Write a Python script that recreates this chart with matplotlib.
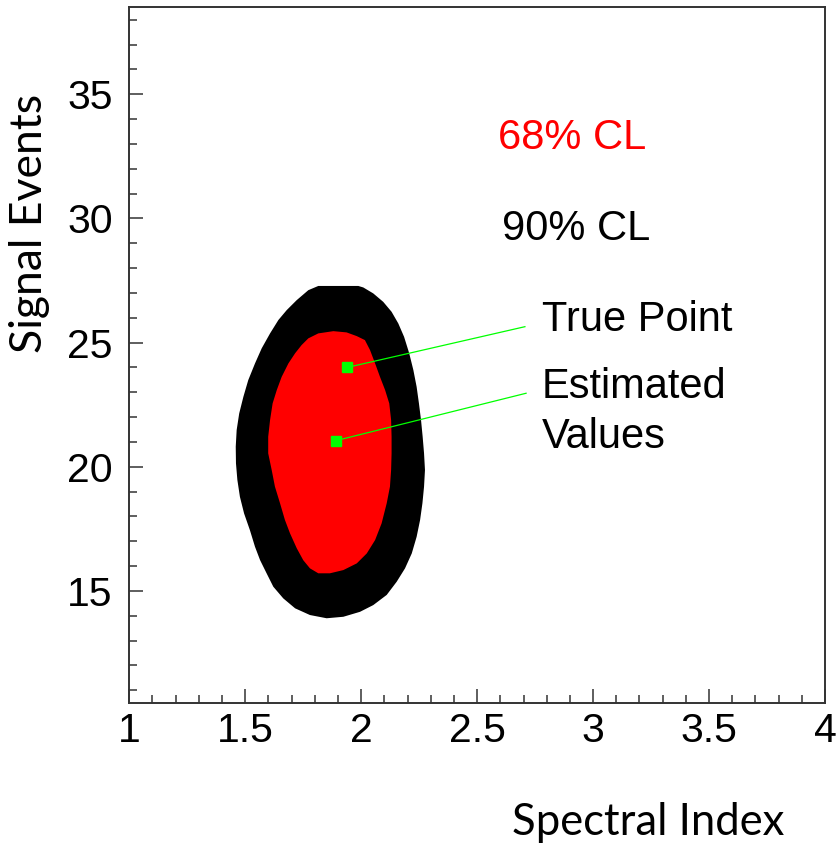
import matplotlib
matplotlib.use("Agg")
import matplotlib.pyplot as plt
from matplotlib.ticker import MultipleLocator, FixedLocator

# ---- data ----
cl90_x = [1.815, 1.9875, 2.009, 2.052, 2.095, 2.131, 2.160, 2.185, 2.207, 2.225, 2.239, 2.249,
          2.258, 2.265, 2.271, 2.275, 2.271, 2.264, 2.254, 2.239, 2.218, 2.189, 2.153, 2.110,
          2.052, 1.995, 1.923, 1.851, 1.779, 1.715, 1.664, 1.621, 1.592, 1.564, 1.542, 1.520,
          1.495, 1.477, 1.466, 1.460, 1.459, 1.463, 1.474, 1.492, 1.513, 1.542, 1.571, 1.607,
          1.643, 1.679, 1.722, 1.772]
cl90_y = [27.28, 27.28, 27.22, 26.98, 26.64, 26.24, 25.77, 25.23, 24.57, 23.89, 23.22, 22.55,
          21.88, 21.21, 20.54, 19.87, 19.20, 18.53, 17.86, 17.18, 16.51, 15.91, 15.37, 14.84,
          14.43, 14.16, 13.96, 13.90, 14.03, 14.30, 14.70, 15.17, 15.71, 16.24, 16.78, 17.45,
          18.12, 18.79, 19.47, 20.14, 20.81, 21.48, 22.15, 22.82, 23.49, 24.16, 24.77, 25.37,
          25.91, 26.31, 26.71, 27.11]

cl68_x = [1.880, 1.937, 1.981, 2.016, 2.038, 2.060, 2.081, 2.103, 2.121, 2.129, 2.131, 2.131,
          2.129, 2.124, 2.110, 2.088, 2.060, 2.024, 1.981, 1.923, 1.865, 1.815, 1.779, 1.750,
          1.722, 1.693, 1.671, 1.650, 1.628, 1.614, 1.599, 1.599, 1.607, 1.618, 1.636, 1.657,
          1.686, 1.715, 1.743, 1.772, 1.815]
cl68_y = [25.46, 25.41, 25.26, 25.10, 24.70, 24.16, 23.62, 23.09, 22.55, 21.88, 21.21, 20.54,
          19.87, 19.20, 18.53, 17.72, 17.05, 16.51, 16.11, 15.84, 15.71, 15.71, 15.91, 16.24,
          16.72, 17.32, 17.86, 18.53, 19.20, 19.87, 20.54, 21.21, 21.88, 22.55, 23.09, 23.62,
          24.16, 24.57, 24.90, 25.17, 25.37]

true_point = (1.94, 24.0)
estimated_point = (1.89, 21.05)
true_label_anchor = (2.706, 25.64)
est_label_anchor = (2.711, 22.96)

x_ticks = [1, 1.5, 2, 2.5, 3, 3.5, 4]
x_tick_labels = ["1", "1.5", "2", "2.5", "3", "3.5", "4"]
y_ticks = [15, 20, 25, 30, 35]
y_tick_labels = ["15", "20", "25", "30", "35"]
x_range = (1, 4)
y_range = (10.5, 38.5)

# ---- figure ----
W, H = 838, 843
fig = plt.figure(figsize=(W / 100, H / 100), dpi=100)
ax = fig.add_axes([129.3 / W, 1 - 702.7 / H, (825 - 129.3) / W, (702.7 - 7.3) / H])

ax.fill(cl90_x, cl90_y, color="black", lw=0, zorder=2)
ax.fill(cl68_x, cl68_y, color="#ff0000", lw=0, zorder=3)

green = "#00ff00"
ax.plot([true_point[0], true_label_anchor[0]], [true_point[1], true_label_anchor[1]],
        color=green, lw=0.9, zorder=4)
ax.plot([estimated_point[0], est_label_anchor[0]], [estimated_point[1], est_label_anchor[1]],
        color=green, lw=0.9, zorder=4)
ax.plot([true_point[0], estimated_point[0]], [true_point[1], estimated_point[1]],
        ls="none", marker="s", ms=7.8, color=green, mec=green, zorder=5)

ax.set_xlim(*x_range)
ax.set_ylim(*y_range)

tick_font = dict(family=["Liberation Sans", "DejaVu Sans"], size=29.5)
ax.xaxis.set_major_locator(FixedLocator(x_ticks))
ax.set_xticklabels(x_tick_labels, **tick_font)
ax.yaxis.set_major_locator(FixedLocator(y_ticks))
ax.set_yticklabels(y_tick_labels, **tick_font)
ax.xaxis.set_minor_locator(MultipleLocator(0.1))
ax.yaxis.set_minor_locator(MultipleLocator(1))

ax.tick_params(which="both", direction="in", top=False, right=False, color="#333333", width=1.1)
ax.tick_params(which="major", length=10)
ax.tick_params(which="minor", length=5.8)
ax.tick_params(axis="x", which="major", pad=7)
ax.tick_params(axis="y", which="major", pad=12)

for sp in ax.spines.values():
    sp.set_linewidth(1.4)
    sp.set_color("#333333")

txt_font = dict(family=["Liberation Sans", "DejaVu Sans"], size=30)
ax.text(2.590, 32.78, "68% CL", color="#ff0000", va="baseline", ha="left", **txt_font)
ax.text(2.606, 29.13, "90% CL", color="black", va="baseline", ha="left", **txt_font)
ax.text(2.778, 25.48, "True Point", color="black", va="baseline", ha="left", **txt_font)
ax.text(2.778, 22.75, "Estimated", color="black", va="baseline", ha="left", **txt_font)
ax.text(2.778, 20.74, "Values", color="black", va="baseline", ha="left", **txt_font)

lab_font = dict(family=["Lato", "DejaVu Sans"], size=32)
fig.text(511.7 / W, 1 - 835 / H, "Spectral Index", ha="left", va="baseline",
         family=["Lato", "DejaVu Sans"], size=31.4)
fig.text(30 / W, 1 - 223.5 / H, "Signal Events", rotation=90, ha="center", va="center", **lab_font)

fig.savefig("out.png", dpi=100)
